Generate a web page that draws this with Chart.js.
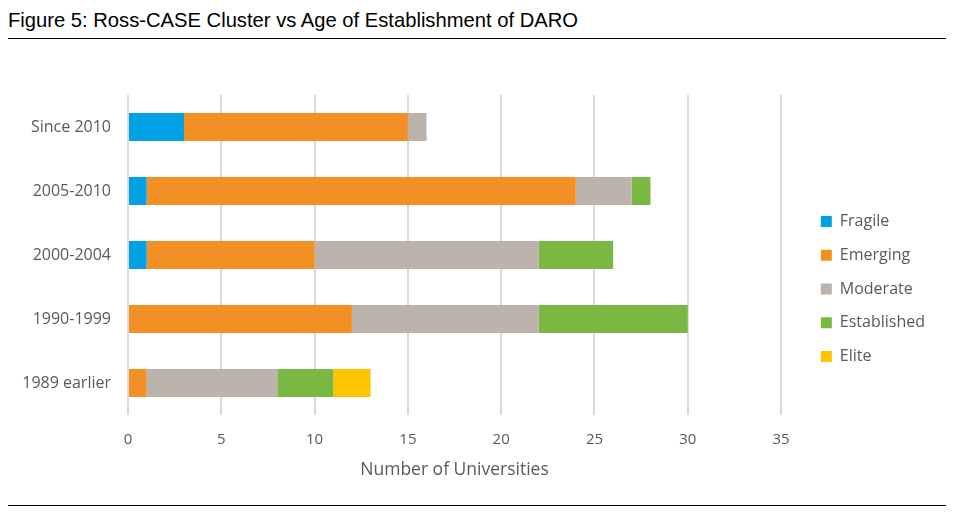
<!DOCTYPE html>
<html lang="en">
<head>
<meta charset="UTF-8" />
<title>Ross-CASE Cluster vs Age of Establishment of DARO</title>
<script src="https://cdn.jsdelivr.net/npm/chart.js"></script>
<style>
  body { margin: 0; background: #fff; width: 958px; height: 520px; position: relative; overflow: hidden; }
  #title { position: absolute; left: 8px; top: 9px; font-family: "Liberation Sans", Arial, sans-serif; font-size: 20.2px; color: #000; }
  .rule { position: absolute; left: 8px; width: 938px; height: 1px; background: #000; }
  #wrap { position: absolute; left: 0; top: 40px; width: 958px; height: 445px; }
</style>
</head>
<body>
<div id="title">Figure 5: Ross-CASE Cluster vs Age of Establishment of DARO</div>
<div class="rule" style="top:38px"></div>
<div id="wrap"><canvas id="chart"></canvas></div>
<div class="rule" style="top:505px"></div>

<script>
// periods (top to bottom) and number of universities per cluster
const periods = ['Since 2010', '2005-2010', '2000-2004', '1990-1999', '1989 earlier'];
const fragile     = [3, 1, 1, 0, 0];
const emerging    = [12, 23, 9, 12, 1];
const moderate    = [1, 3, 12, 10, 7];
const established = [0, 1, 4, 8, 3];
const elite       = [0, 0, 0, 0, 2];
const xTicks = [0, 5, 10, 15, 20, 25, 30, 35];

const grey = '#595959';
const font = 'Open Sans';

// push the legend a bit right of the plot, like the original
const legendShift = {
  id: 'legendShift',
  afterLayout(chart) {
    chart.legend.left += 22;
    chart.legend.right += 22;
  }
};

new Chart(document.getElementById('chart'), {
  type: 'bar',
  data: {
    labels: periods,
    datasets: [
      { label: 'Fragile', data: fragile, backgroundColor: '#00A2E3' },
      { label: 'Emerging', data: emerging, backgroundColor: '#F39025' },
      { label: 'Moderate', data: moderate, backgroundColor: '#BBB3AC' },
      { label: 'Established', data: established, backgroundColor: '#78B843' },
      { label: 'Elite', data: elite, backgroundColor: '#FFC400' }
    ]
  },
  plugins: [legendShift],
  options: {
    indexAxis: 'y',
    responsive: true,
    maintainAspectRatio: false,
    animation: false,
    datasets: { bar: { categoryPercentage: 1, barPercentage: 0.4375 } },
    layout: { padding: { top: 55, bottom: 2, left: 0, right: 45 } },
    plugins: {
      tooltip: { enabled: false },
      legend: {
        position: 'right',
        labels: {
          boxWidth: 11, boxHeight: 11, padding: 17.75,
          color: grey, font: { family: font, size: 16 }
        }
      }
    },
    scales: {
      x: {
        stacked: true,
        min: 0, max: 35,
        afterBuildTicks: s => { s.ticks = xTicks.map(v => ({ value: v })); },
        afterFit: s => { s.height = 68; },
        grid: { color: '#D9D9D9', lineWidth: 2, drawTicks: false },
        border: { display: false },
        ticks: { color: grey, padding: 16, font: { family: font, size: 15 } },
        title: {
          display: true, text: 'Number of Universities', color: grey,
          font: { family: font, size: 17.5 }, padding: { top: 12, bottom: 2 }
        }
      },
      y: {
        stacked: true,
        grid: { display: false },
        border: { display: false },
        afterFit: s => { s.width = 128; },
        ticks: { color: grey, padding: 9, font: { family: font, size: 16 } }
      }
    }
  }
});
</script>
</body>
</html>
